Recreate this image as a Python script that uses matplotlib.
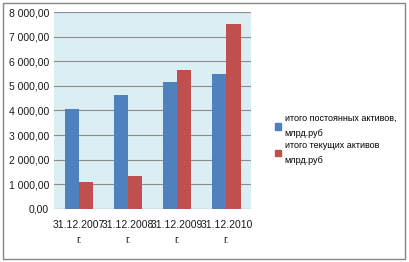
import numpy as np
import matplotlib.pyplot as plt
from matplotlib.patches import Rectangle, Patch

plt.rcParams['font.family'] = ['Liberation Sans', 'DejaVu Sans']

years = ["31.12.2007\nг.", "31.12.2008\nг.", "31.12.2009\nг.", "31.12.2010\nг."]
fixed_assets = [4055, 4625, 5165, 5480]
current_assets = [1085, 1340, 5640, 7510]
series_names = ["итого постоянных активов,\nмлрд.руб", "итого текущих активов\nмлрд.руб"]

blue = '#4F81BD'
red = '#C0504D'

fig = plt.figure(figsize=(4.09, 2.62), dpi=100)
ax = fig.add_axes([0.132, 0.203, 0.482, 0.751])

x = np.arange(len(years))
w = 0.285
ax.bar(x - w / 2, fixed_assets, w, color=blue, zorder=3)
ax.bar(x + w / 2, current_assets, w, color=red, zorder=3)

ax.set_facecolor('#DBEEF4')
ax.set_xlim(-0.5, len(years) - 0.5)
ax.set_ylim(0, 8000)
ax.set_yticks(np.arange(0, 8001, 1000))
ax.set_yticklabels([f"{v:,.2f}".replace(",", " ").replace(".", ",") for v in range(0, 8001, 1000)])
ax.set_xticks(x)
ax.set_xticklabels(years, linespacing=1.6)
ax.tick_params(length=0, labelsize=7.5, colors='#1a1a1a')
ax.tick_params(axis='x', pad=8)
ax.yaxis.grid(True, color='#8c8c8c', linewidth=0.8, zorder=1)
for s in ax.spines.values():
    s.set_visible(False)
ax.axhline(0, color='#8c8c8c', linewidth=0.8, zorder=4)

handles = [Patch(color=blue), Patch(color=red)]
leg = fig.legend(handles, series_names, loc='upper left', bbox_to_anchor=(0.652, 0.595),
                 frameon=False, fontsize=6.5, handlelength=0.7, handleheight=0.7,
                 handletextpad=0.4, labelspacing=0.35)
for t in leg.get_texts():
    t.set_linespacing(1.8)

fig.patches.append(Rectangle((0.007, 0.012), 0.982, 0.976, transform=fig.transFigure,
                             fill=False, edgecolor='#868686', linewidth=1))

fig.savefig('out.png', dpi=100)
